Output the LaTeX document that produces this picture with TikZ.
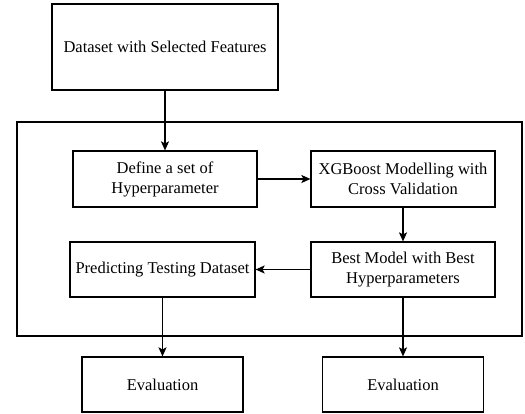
\documentclass[tikz,border=0pt]{standalone}
\usepackage{fontspec}
\setmainfont{Liberation Serif}
\usetikzlibrary{arrows.meta}
\begin{document}
\begin{tikzpicture}[x=1pt,y=-1pt,
  box/.style={draw,line width=1.2pt,inner sep=0pt,align=center,font=\fontsize{16.5}{20}\selectfont},
  arr/.style={line width=1.2pt,-{Stealth[length=9pt,width=8pt,inset=2pt]}}]
\useasboundingbox (0,0) rectangle (525,414);
\node[draw,line width=1.2pt,minimum width=505pt,minimum height=214pt,inner sep=0pt] (outer) at (269.5,229) {};
\node[box,minimum width=226pt,minimum height=86pt] (top) at (165,47) {Dataset with Selected Features};
\node[box,minimum width=184pt,minimum height=56pt] (def) at (165,179) {Define a set of\\Hyperparameter};
\node[box,minimum width=184pt,minimum height=56pt] (xgb) at (403,179) {XGBoost Modelling with\\Cross Validation};
\node[box,minimum width=184pt,minimum height=55pt] (best) at (403,269.5) {Best Model with Best\\Hyperparameters};
\node[box,minimum width=185pt,minimum height=55pt] (pred) at (162.5,269.5) {Predicting Testing Dataset};
\node[box,minimum width=161pt,minimum height=55pt] (evl) at (162.5,384.5) {Evaluation};
\node[box,minimum width=161pt,minimum height=55pt] (evr) at (403,384.5) {Evaluation};
\draw[arr] (top) -- (def);
\draw[arr] (def) -- (xgb);
\draw[arr] (xgb) -- (best);
\draw[arr] (best) -- (pred);
\draw[arr] (pred) -- (evl);
\draw[arr] (best) -- (evr);
\end{tikzpicture}
\end{document}
